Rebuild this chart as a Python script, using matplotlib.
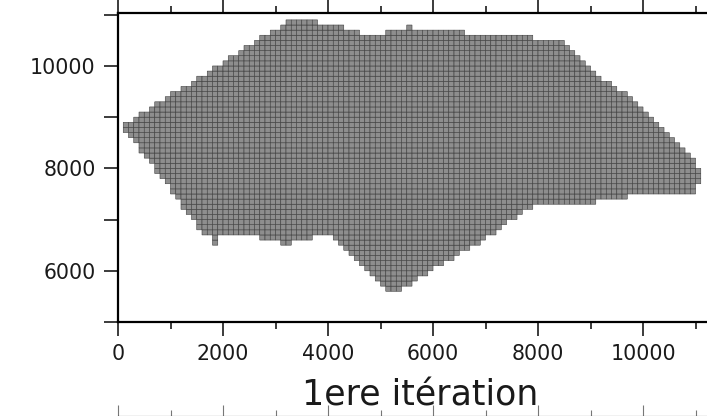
import numpy as np
import matplotlib
matplotlib.use('Agg')
import matplotlib.pyplot as plt
from matplotlib.path import Path
from matplotlib.colors import ListedColormap
from matplotlib.ticker import MultipleLocator

# outline of the gridded zone (m), clockwise from the west tip
zone_x = [90, 90, 3244, 3850, 3850, 4260, 4260, 4640, 4640, 5050, 5050, 5450,
          5450, 5575, 5575, 6610, 6610, 7910, 7910, 8514, 9181, 9815, 10451,
          10927, 11149, 11149, 10990, 10990, 9750, 9750, 9140, 9140, 8660,
          8660, 7975, 7467, 6958, 6196, 5625, 5330, 5120, 4101, 4101, 3690,
          3690, 3290, 3290, 3086, 3086, 2667, 2667, 2095, 2095, 1890, 1890,
          1785, 1785, 1562, 1530, 1434, 197]
zone_y = [8700, 8830, 10870, 10870, 10770, 10770, 10670, 10670, 10575, 10575,
          10670, 10670, 10780, 10780, 10670, 10670, 10560, 10560, 10455, 10455,
          9791, 9336, 8685, 8229, 7904, 7700, 7700, 7520, 7520, 7420, 7420,
          7320, 7320, 7280, 7280, 6992, 6602, 6146, 5787, 5590, 5590, 6699,
          6732, 6732, 6601, 6601, 6504, 6504, 6601, 6601, 6732, 6732, 6666,
          6666, 6504, 6504, 6666, 6666, 6894, 6992, 8697]

xticks = [0, 2000, 4000, 6000, 8000, 10000]
yticks = [6000, 8000, 10000]
cell = 100

xe = np.arange(0, 11500 + cell, cell)
ye = np.arange(5000, 11000 + cell, cell)
xc = 0.5 * (xe[:-1] + xe[1:])
yc = 0.5 * (ye[:-1] + ye[1:])
XX, YY = np.meshgrid(xc, yc)
zone = Path(np.column_stack([zone_x, zone_y]))
inside = zone.contains_points(np.column_stack([XX.ravel(), YY.ravel()]))
inside = inside.reshape(XX.shape)
Z = np.ma.masked_where(~inside, np.ones_like(XX))

fig = plt.figure(figsize=(7.07, 4.16), dpi=100)
ax = fig.add_axes([0.1669, 0.226, 0.854, 0.7428])
# pcolor (not pcolormesh) leaves the masked cells out completely
ax.pcolor(xe, ye, Z, cmap=ListedColormap(['#8e8e8e']),
          edgecolors='#3c3c3c', linewidth=0.4)

ax.set_xlim(0, 11500)
ax.set_ylim(5000, 11035)
ax.set_xticks(xticks)
ax.set_yticks(yticks)
ax.xaxis.set_minor_locator(MultipleLocator(1000))
ax.yaxis.set_minor_locator(MultipleLocator(1000))
ax.tick_params(axis='x', which='both', top=True, direction='out',
               labelsize=14.8, width=1.2, pad=6, colors='#1a1a1a')
ax.tick_params(axis='x', which='major', length=10)
ax.tick_params(axis='x', which='minor', length=5)
ax.tick_params(axis='y', which='both', direction='out', length=10,
               labelsize=14.8, width=1.2, pad=6, colors='#1a1a1a')
for s in ax.spines.values():
    s.set_linewidth(1.6)
ax.set_xlabel('1ere itération', fontsize=25, color='#1a1a1a', labelpad=10)

# top edge of the next panel on the page, just showing at the bottom
ax2 = fig.add_axes([0.1669, -0.5, 0.854, 0.5])
ax2.set_xlim(0, 11500)
ax2.set_xticks(xticks)
ax2.xaxis.set_minor_locator(MultipleLocator(1000))
ax2.tick_params(axis='x', which='both', top=True, bottom=False,
                labeltop=False, labelbottom=False, direction='out',
                width=0.8, colors='#777777')
ax2.tick_params(axis='x', which='major', length=8)
ax2.tick_params(axis='x', which='minor', length=4)
ax2.set_yticks([])

fig.savefig('out.png', dpi=100)
